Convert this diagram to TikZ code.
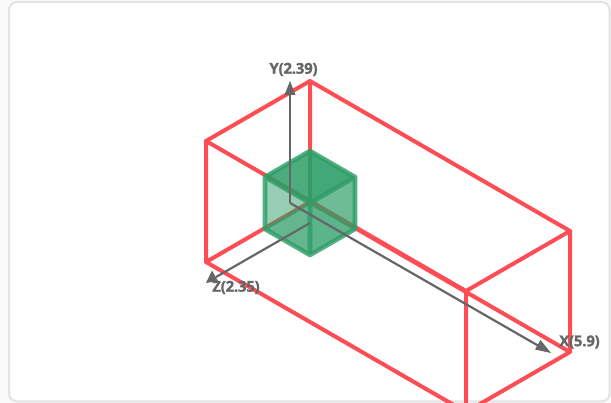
\documentclass[tikz,border=0pt]{standalone}
\usepackage{fontspec}
\setmainfont{Open Sans}
\newfontfamily\lab[BoldFeatures={FakeBold=1.2,LetterSpace=-1.5}]{Open Sans}
\definecolor{redbox}{HTML}{FF4D55}
\definecolor{cubeg}{HTML}{2E9E68}
\definecolor{axisg}{HTML}{666666}
\definecolor{pagebg}{HTML}{FAFAFA}
\definecolor{framec}{HTML}{E3E3E3}
\tikzset{
  boxedge/.style={draw=redbox,line width=4pt,line cap=round,line join=round},
  cubeface/.style={fill=cubeg,fill opacity=#1,draw=none},
  cubeedge/.style={draw=cubeg,line width=4.6pt,line cap=round,line join=round,draw opacity=.82},
  cubeback/.style={draw=cubeg,line width=3.5pt,line cap=round,draw opacity=.45},
  axisline/.style={draw=axisg,line width=2.2pt},
  axishead/.style={fill=axisg,draw=none},
  axislabel/.style={text=axisg,font=\lab\bfseries\fontsize{15}{15}\selectfont,inner sep=0pt},
}
\begin{document}
\begin{tikzpicture}[x=1pt,y=-1pt]
\useasboundingbox (0,0) rectangle (611,403);
\fill[pagebg] (0,0) rectangle (611,403);
\draw[framec,line width=2pt,fill=white,rounded corners=8pt] (9,2) rectangle (609.5,401.5);
\coordinate (A) at (310,81);
\coordinate (B) at (206,141);
\coordinate (C) at (570,231);
\coordinate (D) at (466,291);
\coordinate (A2) at (310,202);
\coordinate (B2) at (206,262);
\coordinate (C2) at (570,352);
\coordinate (D2) at (466,412);
\begin{scope}
\clip (0,0) rectangle (611,403);
\draw[boxedge] (A)--(B) (A)--(C) (B)--(D) (D)--(C) (A)--(A2) (B)--(B2) (C)--(C2) (D)--(D2) (A2)--(B2) (A2)--(C2) (B2)--(D2) (D2)--(C2);
\end{scope}
\coordinate (T) at (310,151);
\coordinate (L) at (265,177);
\coordinate (R) at (355,177);
\coordinate (M) at (310,203);
\coordinate (LB) at (265,229);
\coordinate (RB) at (355,229);
\coordinate (Bo) at (310,255);
\fill[cubeface=.45] (T)--(L)--(LB)--(M)--cycle;
\fill[cubeface=.62] (T)--(R)--(RB)--(M)--cycle;
\fill[cubeface=.72] (M)--(LB)--(Bo)--(RB)--cycle;
\fill[cubeface=.72] (T)--(R)--(M)--(L)--cycle;
\fill[cubeface=.08] (L)--(M)--(Bo)--(LB)--cycle;
\fill[cubeface=.18] (R)--(M)--(Bo)--(RB)--cycle;
\draw[cubeback] (T)--(M) (M)--(LB) (M)--(RB);
\draw[cubeedge] (T)--(L)--(LB)--(Bo)--(RB)--(R)--cycle (L)--(M)--(R) (M)--(Bo);
\coordinate (O) at (290,203);
\coordinate (O2) at (310,223);
\coordinate (Yt) at (290,81);
\coordinate (Xt) at (551,353);
\coordinate (Zt) at (206,283);
\draw[axisline] (O)--(290,92);
\draw[axisline] (O)--(540,346.7);
\draw[axisline] (O2)--(216,277);
\fill[axishead] (Yt)--(284.5,95)--(295.5,95)--cycle;
\fill[axishead] (Xt)--(535,349.5)--(540.5,340)--cycle;
\fill[axishead] (Zt)--(212,270.5)--(218,281)--cycle;
\node[axislabel] (ly) at (293.5,69.5) {Y(2.39)};
\node[axislabel] (lz) at (236,287.5) {Z(2.35)};
\node[axislabel] (lx) at (579.5,342) {X(5.9)};
\end{tikzpicture}
\end{document}
